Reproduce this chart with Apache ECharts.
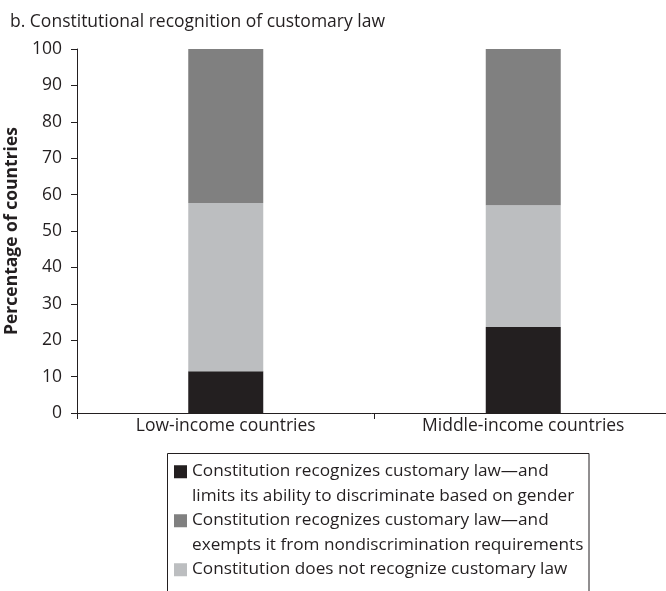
<!DOCTYPE html>
<html>
<head>
<meta charset="utf-8">
<script src="https://cdn.jsdelivr.net/npm/echarts@6/dist/echarts.min.js"></script>
<style>
html,body{margin:0;padding:0;background:#fff;}
#chart{width:666px;height:591px;}
</style>
</head>
<body>
<div id="chart"></div>
<script>
const categories = ['Low-income countries', 'Middle-income countries'];
const limitsValues = [11.5, 23.6];
const notRecognizeValues = [46.2, 33.5];
const exemptsValues = [42.3, 42.9];
const yTicks = [0, 10, 20, 30, 40, 50, 60, 70, 80, 90, 100];

const nameLimits = 'Constitution recognizes customary law\u2014and\nlimits its ability to discriminate based on gender';
const nameExempts = 'Constitution recognizes customary law\u2014and\nexempts it from nondiscrimination requirements';
const nameNot = 'Constitution does not recognize customary law';

const FONT = 'Open Sans';
const FS = 17.5;
const L = 24.5;
const ICON = 'path://M0,0L13,0L13,13L0,13Z M0,37L0.01,37Z';
const chart = echarts.init(document.getElementById('chart'));
chart.setOption({
  animation: false,
  backgroundColor: '#fff',
  title: {
    text: 'b. Constitutional recognition of customary law',
    left: 5, top: 8,
    textStyle: {fontFamily: FONT, fontSize: FS, fontWeight: 'normal', color: '#231f20'}
  },
  grid: {left: 77, width: 595, top: 49, height: 364, containLabel: false, outerBoundsMode: 'none'},
  xAxis: {
    type: 'category',
    data: categories,
    axisLine: {lineStyle: {color: '#231f20', width: 1}},
    axisTick: {show: true, length: 6, alignWithLabel: false, lineStyle: {color: '#231f20'}},
    axisLabel: {fontFamily: FONT, fontSize: FS, color: '#231f20', margin: 4}
  },
  yAxis: {
    type: 'value',
    min: yTicks[0], max: yTicks[yTicks.length - 1], interval: 10,
    name: 'Percentage of countries',
    nameLocation: 'middle',
    nameGap: 49,
    nameTextStyle: {fontFamily: FONT, fontSize: 17.5, fontWeight: 'bold', color: '#231f20'},
    axisLine: {show: true, lineStyle: {color: '#231f20', width: 1}},
    axisTick: {show: true, length: 6, lineStyle: {color: '#231f20'}},
    splitLine: {show: false},
    axisLabel: {fontFamily: FONT, fontSize: FS, color: '#231f20', margin: 15}
  },
  legend: {
    orient: 'vertical',
    left: 174, top: 459.25,
    height: 200,
    padding: 0,
    itemGap: 0,
    itemWidth: 13, itemHeight: 37,
    icon: ICON,
    formatter: function (name) { return name === nameNot ? name + '\n ' : name; },
    textStyle: {fontFamily: FONT, fontSize: 17.2, color: '#231f20', lineHeight: L},
    data: [nameLimits, nameExempts, nameNot]
  },
  graphic: [{
    type: 'rect',
    shape: {x: 167.5, y: 453.5, width: 421.5, height: 200},
    style: {fill: 'none', stroke: '#231f20', lineWidth: 1},
    silent: true
  }],
  series: [
    {name: nameLimits, type: 'bar', stack: 'a', data: limitsValues, barWidth: 75, itemStyle: {color: '#231f20'}},
    {name: nameNot, type: 'bar', stack: 'a', data: notRecognizeValues, barWidth: 75, itemStyle: {color: '#bcbec0'}},
    {name: nameExempts, type: 'bar', stack: 'a', data: exemptsValues, barWidth: 75, itemStyle: {color: '#808080'}}
  ]
});
</script>
</body>
</html>
